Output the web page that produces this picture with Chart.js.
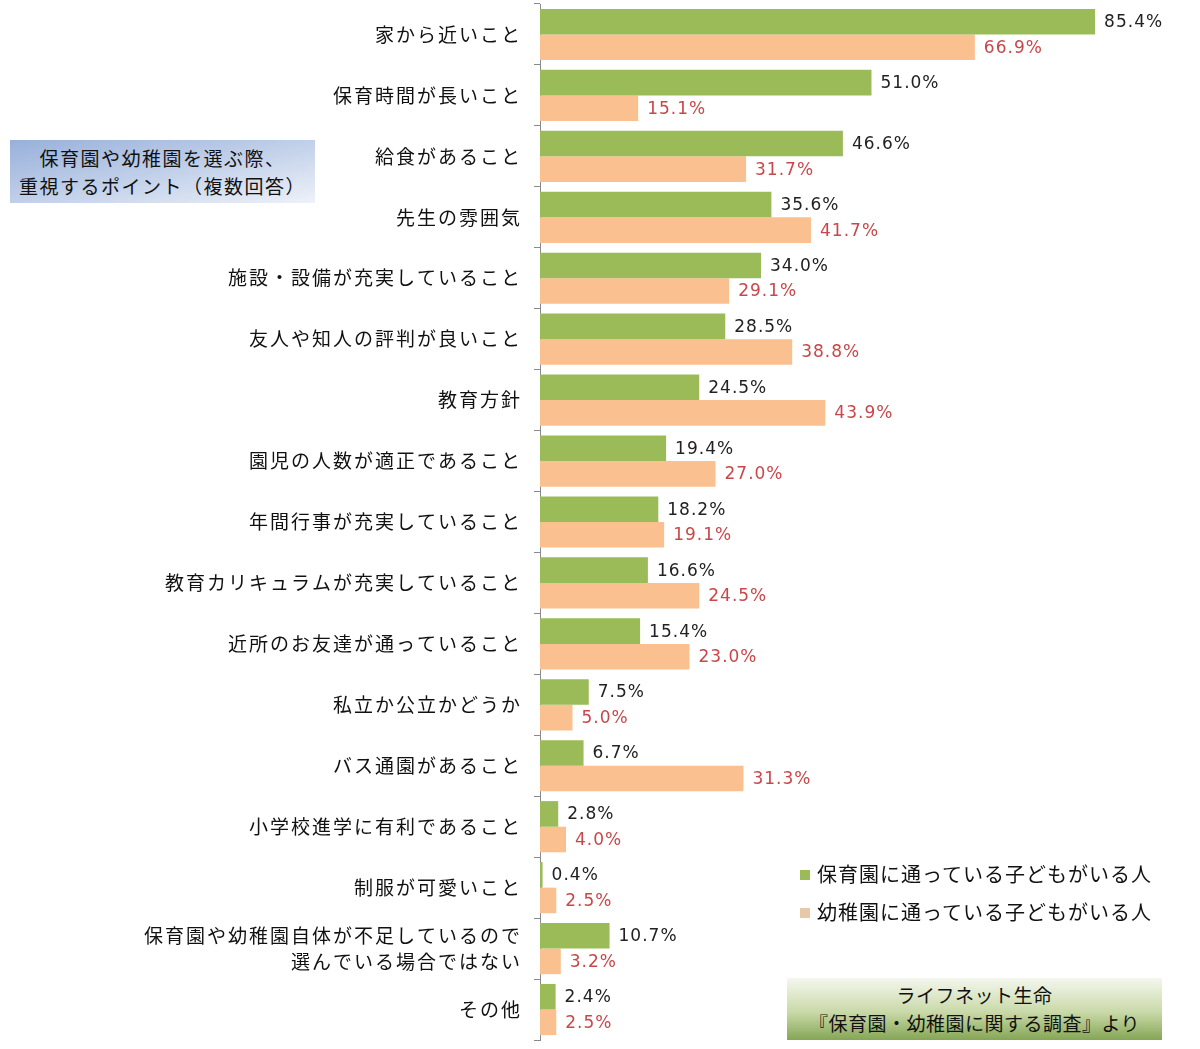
<!DOCTYPE html>
<html><head><meta charset="utf-8">
<script src="https://cdn.jsdelivr.net/npm/chart.js@4"></script>
<style>
html,body{margin:0;padding:0;background:#fff;}
#wrap{position:relative;width:1200px;height:1049px;}
canvas{position:absolute;left:0;top:0;}
.box{position:absolute;font-family:"Noto Sans CJK JP",sans-serif;color:#111;text-align:center;}
#title{left:10px;top:140px;width:305px;height:63px;font-size:19px;line-height:28px;padding-top:4px;box-sizing:border-box;letter-spacing:1.5px;
 background:linear-gradient(to bottom right,#98b0da 0%,#c9d6ec 60%,#eef2f9 100%);}
#source{left:787px;top:978px;width:375px;height:62px;font-size:19px;line-height:28px;padding-top:3px;box-sizing:border-box;letter-spacing:0.5px;
 background:linear-gradient(to bottom,#f4f7ee 0%,#c9d9a8 55%,#85a655 100%);}
.leg{position:absolute;font-family:"Noto Sans CJK JP",sans-serif;font-size:20px;color:#111;line-height:24px;letter-spacing:1px;}
.leg span{display:inline-block;width:10px;height:10px;margin-right:7px;vertical-align:middle;position:relative;top:-2px;}
</style></head>
<body><div id="wrap">
<canvas id="c" width="1200" height="1049"></canvas>
<div id="title" class="box">保育園や幼稚園を選ぶ際、<br>重視するポイント（複数回答）</div>
<div class="leg" style="left:800px;top:862px;"><span style="background:#9bbb59"></span>保育園に通っている子どもがいる人</div>
<div class="leg" style="left:800px;top:900px;"><span style="background:#e6c9a8"></span>幼稚園に通っている子どもがいる人</div>
<div id="source" class="box">ライフネット生命<br>『保育園・幼稚園に関する調査』より</div>
</div>
<script>
const categories = [
  "家から近いこと",
  "保育時間が長いこと",
  "給食があること",
  "先生の雰囲気",
  "施設・設備が充実していること",
  "友人や知人の評判が良いこと",
  "教育方針",
  "園児の人数が適正であること",
  "年間行事が充実していること",
  "教育カリキュラムが充実していること",
  "近所のお友達が通っていること",
  "私立か公立かどうか",
  "バス通園があること",
  "小学校進学に有利であること",
  "制服が可愛いこと",
  ["保育園や幼稚園自体が不足しているので", "選んでいる場合ではない"],
  "その他"
];
const seriesNames = ["保育園に通っている子どもがいる人", "幼稚園に通っている子どもがいる人"];
const hoikuen = [85.4, 51.0, 46.6, 35.6, 34.0, 28.5, 24.5, 19.4, 18.2, 16.6, 15.4, 7.5, 6.7, 2.8, 0.4, 10.7, 2.4];
const youchien = [66.9, 15.1, 31.7, 41.7, 29.1, 38.8, 43.9, 27.0, 19.1, 24.5, 23.0, 5.0, 31.3, 4.0, 2.5, 3.2, 2.5];

const labelColors = ["#222222", "#c8474a"];

const spacing = {
  id: "spacing",
  beforeDraw(chart) { chart.ctx.letterSpacing = "2px"; },
  beforeDatasetsDraw(chart) { chart.ctx.letterSpacing = "0px"; }
};

const valueLabels = {
  id: "valueLabels",
  afterDatasetsDraw(chart) {
    const ctx = chart.ctx;
    ctx.save();
    ctx.letterSpacing = "1px";
    ctx.font = "17px 'DejaVu Sans', sans-serif";
    ctx.textBaseline = "middle";
    ctx.textAlign = "left";
    chart.data.datasets.forEach((ds, di) => {
      const meta = chart.getDatasetMeta(di);
      ctx.fillStyle = labelColors[di];
      meta.data.forEach((el, i) => {
        ctx.fillText(ds.data[i].toFixed(1) + "%", el.x + 9, el.y + 1);
      });
    });
    ctx.restore();
    ctx.letterSpacing = "0px";
  }
};

new Chart(document.getElementById("c"), {
  type: "bar",
  data: {
    labels: categories,
    datasets: [
      { label: seriesNames[0], data: hoikuen, backgroundColor: "#9bbb59" },
      { label: seriesNames[1], data: youchien, backgroundColor: "#fac08f" }
    ]
  },
  options: {
    indexAxis: "y",
    responsive: false,
    animation: false,
    layout: { padding: { top: 4, bottom: 9, right: 10, left: 0 } },
    datasets: { bar: { categoryPercentage: 0.84, barPercentage: 1.0 } },
    plugins: { legend: { display: false }, tooltip: { enabled: false } },
    scales: {
      x: { display: false, min: 0, max: 100 },
      y: {
        afterFit(scale) { scale.width = 540; scale.paddingTop = 0; scale.paddingBottom = 0; },
        border: { display: true, color: "#8a8a8a", width: 1 },
        grid: { drawOnChartArea: false, drawTicks: true, tickLength: 6, color: "#8a8a8a", offset: true },
        ticks: {
          padding: 12,
          color: "#111",
          font: { family: "'Noto Sans CJK JP', sans-serif", size: 19, lineHeight: 1.4 }
        }
      }
    }
  },
  plugins: [spacing, valueLabels]
});
</script>
</body></html>
